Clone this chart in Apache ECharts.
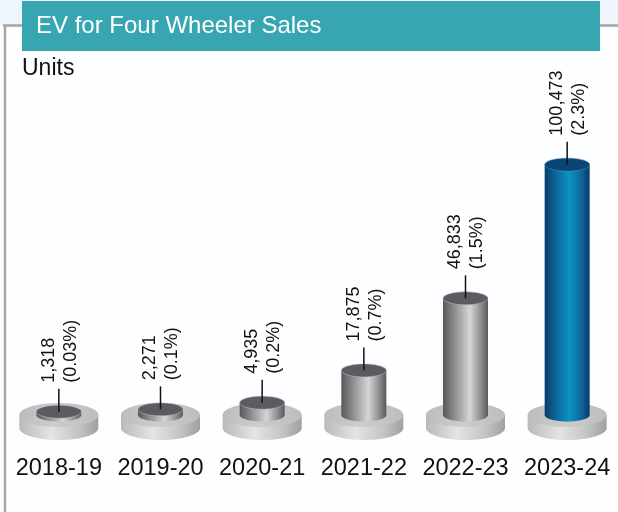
<!DOCTYPE html>
<html style="height:100%">
<head>
    <meta charset="UTF-8">
    <title>EV for Four Wheeler Sales</title>
    <script src="https://cdn.jsdelivr.net/npm/echarts@6/dist/echarts.min.js"></script>
</head>
<body style="height:100%;margin:0">
    <div id="main" style="width:618px;height:512px;"></div>
    <script>
        var chart = echarts.init(document.getElementById('main'), null, { renderer: 'canvas' });

        // data
        var years = ['2018-19', '2019-20', '2020-21', '2021-22', '2022-23', '2023-24'];
        var units = [1318, 2271, 4935, 17875, 46833, 100473];
        var shares = ['0.03%', '0.1%', '0.2%', '0.7%', '1.5%', '2.3%'];

        var FONT = '"Liberation Sans", Arial, sans-serif';

        // points along an ellipse arc
        function arc(cx, cy, rx, ry, a0, a1, n) {
            var pts = [];
            for (var i = 0; i <= n; i++) {
                var a = a0 + (a1 - a0) * i / n;
                pts.push([cx + rx * Math.cos(a), cy + ry * Math.sin(a)]);
            }
            return pts;
        }
        function hgrad(stops) {
            return {
                type: 'linear', x: 0, y: 0, x2: 1, y2: 0,
                colorStops: stops.map(function (s) { return { offset: s[0], color: s[1] }; })
            };
        }

        var diskSide = hgrad([[0, '#b9b9b9'], [0.4, '#e4e4e4'], [0.75, '#c4c4c4'], [1, '#a0a0a0']]);
        var diskTop = hgrad([[0, '#bcbcbc'], [0.45, '#cdcdcd'], [1, '#bdbdbd']]);
        var grayBody = hgrad([[0, '#58585b'], [0.25, '#8c8c8f'], [0.6, '#d6d6d8'], [0.85, '#8a8a8d'], [1, '#59595c']]);
        var blueBody = hgrad([[0, '#0a3c68'], [0.3, '#0d6ea2'], [0.55, '#0b93c4'], [0.8, '#0c6a9d'], [1, '#0a3b66']]);

        function renderItem(params, api) {
            var i = params.dataIndex;
            var base = api.coord([api.value(0), 0]);
            var top = api.coord([api.value(0), api.value(1)]);
            var cx = base[0], by = base[1], ty = top[1];
            var R = 39.5, Rry = 12, thick = 13;
            var r = 22.5, rry = 6.5;
            var last = i === years.length - 1;

            var sidePts = [[cx - R, by]].concat(arc(cx, by + thick, R, Rry, Math.PI, 0, 40)).concat([[cx + R, by]]);
            var bodyPts = [[cx - r, ty]].concat(arc(cx, by, r, rry, Math.PI, 0, 40)).concat([[cx + r, ty]]);

            return {
                type: 'group',
                children: [
                    { type: 'polygon', shape: { points: sidePts }, style: { fill: diskSide } },
                    { type: 'polygon', shape: { points: arc(cx, by, R, Rry, 0, Math.PI * 2, 60) }, style: { fill: diskTop } },
                    { type: 'polygon', shape: { points: bodyPts }, style: { fill: last ? blueBody : grayBody } },
                    {
                        type: 'polygon', shape: { points: arc(cx, ty, r, rry, 0, Math.PI * 2, 60) },
                        style: {
                            fill: last ? '#084676' : '#5b5b60',
                            stroke: last ? 'rgba(90,150,200,0.6)' : 'rgba(190,190,205,0.7)', lineWidth: 0.8
                        }
                    },
                    { type: 'line', shape: { x1: cx, y1: ty, x2: cx, y2: ty - 23 }, style: { stroke: '#111', lineWidth: 1.5 } },
                    {
                        type: 'text', x: cx + 1, y: ty - 29, rotation: Math.PI / 2,
                        style: {
                            text: api.value(1).toLocaleString('en-US') + '\n(' + shares[i] + ')',
                            fontSize: 18, fontFamily: FONT, fill: '#111',
                            align: 'left', verticalAlign: 'middle', lineHeight: 22
                        }
                    }
                ]
            };
        }

        var option = {
            backgroundColor: '#fdfeff',
            animation: false,
            graphic: [
                { type: 'rect', shape: { x: 0, y: 0, width: 618, height: 25 }, style: { fill: '#eef5fd' }, z: -10 },
                { type: 'line', shape: { x1: 3, y1: 25.5, x2: 618, y2: 25.5 }, style: { stroke: '#a3a3a3', lineWidth: 2.5 }, z: -5 },
                { type: 'line', shape: { x1: 5, y1: 25, x2: 5, y2: 512 }, style: { stroke: '#a8a8a8', lineWidth: 2.5 }, z: -5 },
                { type: 'rect', shape: { x: 22, y: 1, width: 578, height: 50 }, style: { fill: '#38a6b1' }, z: -4 },
                {
                    type: 'text', x: 36, y: 26,
                    style: { text: 'EV for Four Wheeler Sales', fontSize: 24, fontFamily: FONT, fill: '#ffffff', verticalAlign: 'middle' }
                },
                {
                    type: 'text', x: 22, y: 69,
                    style: { text: 'Units', fontSize: 23, fontFamily: FONT, fill: '#111', verticalAlign: 'middle' }
                }
            ],
            grid: { left: 8, right: 0, top: 116, bottom: 97 },
            xAxis: {
                type: 'category',
                data: years,
                axisLine: { show: false },
                axisTick: { show: false },
                axisLabel: { margin: 42, fontSize: 23.5, fontFamily: FONT, color: '#111', interval: 0 }
            },
            yAxis: {
                type: 'value', min: 0, max: 120000,
                show: false, splitLine: { show: false }
            },
            series: [{
                type: 'custom',
                renderItem: renderItem,
                encode: { x: 0, y: 1 },
                data: years.map(function (y, k) { return [k, units[k]]; })
            }]
        };
        chart.setOption(option);
    </script>
</body>
</html>
